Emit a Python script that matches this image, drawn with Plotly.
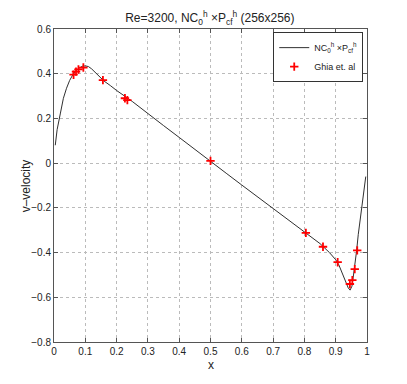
import plotly.graph_objects as go

# computed solution, v-velocity along horizontal centreline
x_nc = [0.004, 0.01, 0.02, 0.03, 0.04, 0.05, 0.06, 0.07, 0.08, 0.09, 0.10, 0.11, 0.12,
        0.13, 0.14, 0.15, 0.16, 0.18, 0.20, 0.25, 0.30, 0.35, 0.40, 0.45, 0.50, 0.55,
        0.60, 0.65, 0.70, 0.75, 0.80, 0.85, 0.88, 0.90, 0.91, 0.92, 0.93, 0.94, 0.946,
        0.952, 0.956, 0.962, 0.967, 0.972, 0.978, 0.984, 0.99, 0.996]
v_nc = [0.08, 0.15, 0.22, 0.29, 0.335, 0.37, 0.395, 0.413, 0.425, 0.433, 0.435, 0.432, 0.422,
        0.408, 0.393, 0.379, 0.367, 0.347, 0.325, 0.276, 0.220, 0.168, 0.115, 0.063, 0.010, -0.045,
        -0.098, -0.150, -0.200, -0.252, -0.305, -0.360, -0.400, -0.432, -0.455, -0.49, -0.53, -0.558, -0.568,
        -0.55, -0.51, -0.45, -0.39, -0.32, -0.255, -0.20, -0.13, -0.06]

# Ghia et al. reference values
x_ghia = [0.9688, 0.9609, 0.9531, 0.9453, 0.9063, 0.8594, 0.8047, 0.5000,
          0.2344, 0.2266, 0.1563, 0.0938, 0.0781, 0.0703, 0.0625]
v_ghia = [-0.39017, -0.47425, -0.52357, -0.54053, -0.44307, -0.37401, -0.31184, 0.00999,
          0.28188, 0.29030, 0.37119, 0.42768, 0.41906, 0.40917, 0.39560]

x_ticks = [0, 0.1, 0.2, 0.3, 0.4, 0.5, 0.6, 0.7, 0.8, 0.9, 1]
y_ticks = [-0.8, -0.6, -0.4, -0.2, 0, 0.2, 0.4, 0.6]

fig = go.Figure()
fig.add_trace(go.Scatter(x=x_nc, y=v_nc, mode='lines', name='NC<sub>0</sub><sup>h</sup> ×P<sub>cf</sub><sup>h</sup>',
                         line=dict(color='#303030', width=1)))
fig.add_trace(go.Scatter(x=x_ghia, y=v_ghia, mode='markers', name='Ghia et. al',
                         marker=dict(symbol='cross-thin', size=6, color='red',
                                     line=dict(color='red', width=1.8))))

axis = dict(showline=True, linecolor='#555', linewidth=1, mirror='ticks', ticks='inside',
            ticklen=4, tickcolor='#555', showgrid=True, gridcolor='#bbb', griddash='dot',
            gridwidth=1, zeroline=False, tickfont=dict(size=10, color='#222'), automargin=False)

# page body adds 8px, so margins are shifted by that amount
fig.update_layout(
    width=407, height=384,
    margin=dict(l=46, r=48, t=21, b=50),
    paper_bgcolor='white', plot_bgcolor='white',
    font=dict(family='Liberation Sans, Arial, sans-serif', color='#222'),
    title=dict(text='Re=3200, NC<sub>0</sub><sup>h</sup> ×P<sub>cf</sub><sup>h</sup> (256x256)',
               x=0.496, xanchor='center', y=0.974, yanchor='middle', font=dict(size=12),
               automargin=False),
    xaxis=dict(axis, range=[0, 1], tickvals=x_ticks, ticktext=[str(t) for t in x_ticks]),
    yaxis=dict(axis, range=[-0.8, 0.6], tickvals=y_ticks),
    legend=dict(x=0.988, y=0.99, xanchor='right', yanchor='top', bordercolor='#333', borderwidth=1,
                bgcolor='white', font=dict(size=9), tracegroupgap=0, itemwidth=30),
    showlegend=True,
)
fig.add_annotation(text='x', xref='paper', yref='paper', x=0.5, y=-0.072,
                   xanchor='center', yanchor='middle', showarrow=False, font=dict(size=12))
fig.add_annotation(text='v\u2013velocity', xref='paper', yref='paper', x=-0.09, y=0.5,
                   xanchor='center', yanchor='middle', textangle=-90, showarrow=False,
                   font=dict(size=12))

fig.write_html("out.html")
